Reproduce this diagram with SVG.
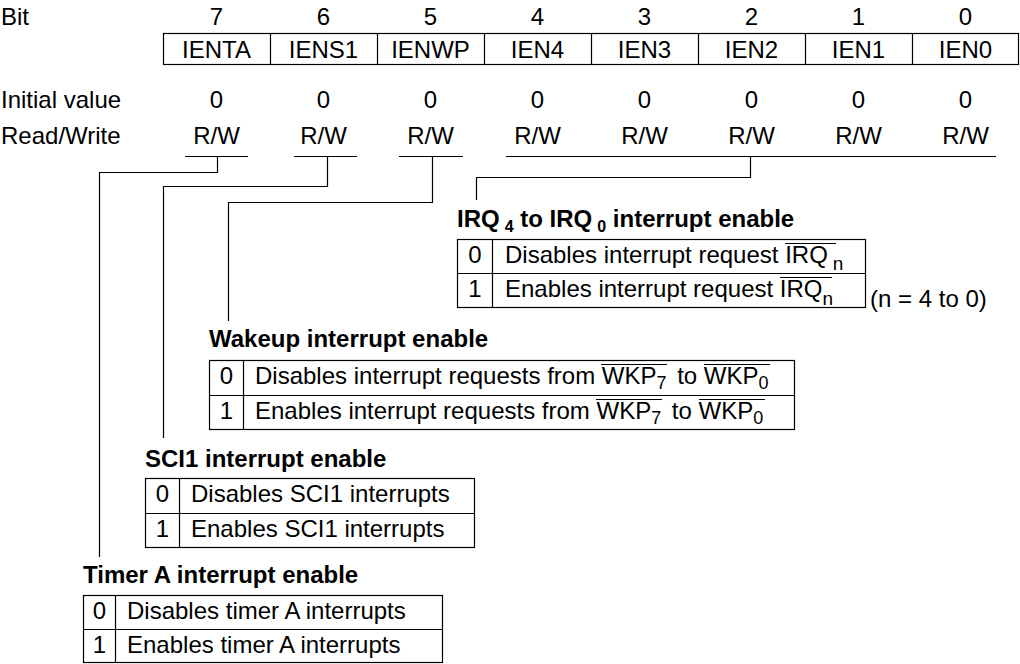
<svg xmlns="http://www.w3.org/2000/svg" width="1020" height="664" viewBox="0 0 1020 664">
<style>
.t{font-family:"Liberation Sans",Arial,Helvetica,sans-serif;font-size:24px;fill:#000}
.b{font-weight:bold}
.c{text-anchor:middle}
.ln{stroke:#000;stroke-width:1.2;fill:none}
</style>
<rect width="1020" height="664" fill="#fff"/>
<g id="header">
<text class="t" x="1" y="25">Bit</text>
<text class="t" x="1" y="108">Initial value</text>
<text class="t" x="1" y="144">Read/Write</text>
<g class="t c">
<text x="216.5" y="25">7</text><text x="323.5" y="25">6</text><text x="430.5" y="25">5</text><text x="537.5" y="25">4</text>
<text x="644.5" y="25">3</text><text x="751.5" y="25">2</text><text x="858.5" y="25">1</text><text x="965.5" y="25">0</text>
<text x="216.5" y="108">0</text><text x="323.5" y="108">0</text><text x="430.5" y="108">0</text><text x="537.5" y="108">0</text>
<text x="644.5" y="108">0</text><text x="751.5" y="108">0</text><text x="858.5" y="108">0</text><text x="965.5" y="108">0</text>
<text x="216.5" y="144">R/W</text><text x="323.5" y="144">R/W</text><text x="430.5" y="144">R/W</text><text x="537.5" y="144">R/W</text>
<text x="644.5" y="144">R/W</text><text x="751.5" y="144">R/W</text><text x="858.5" y="144">R/W</text><text x="965.5" y="144">R/W</text>
</g>
</g>
<g id="register">
<rect class="ln" x="163.5" y="33.5" width="855" height="31"/>
<path class="ln" d="M270.5 33.5V64.5M377.5 33.5V64.5M484.5 33.5V64.5M591.5 33.5V64.5M698.5 33.5V64.5M805.5 33.5V64.5M912.5 33.5V64.5"/>
<g class="t c">
<text x="216.5" y="58">IENTA</text><text x="323.5" y="58">IENS1</text><text x="430.5" y="58">IENWP</text><text x="537.5" y="58">IEN4</text>
<text x="644.5" y="58">IEN3</text><text x="751.5" y="58">IEN2</text><text x="858.5" y="58">IEN1</text><text x="965.5" y="58">IEN0</text>
</g>
</g>
<g id="connectors">
<path class="ln" d="M185 156.5H248M294 156.5H357M399 156.5H463M506 156.5H996"/>
<path class="ln" d="M217.5 156.5V172.5H99.5V557"/>
<path class="ln" d="M327.5 156.5V186.5H163.5V438"/>
<path class="ln" d="M432.5 156.5V202.5H228.5V321"/>
<path class="ln" d="M750.5 156.5V177.5H476.5V200"/>
</g>
<g id="irq">
<text class="t b" x="457" y="227">IRQ<tspan font-size="16" dx="5" dy="5">4</tspan><tspan dy="-5"> to IRQ</tspan><tspan font-size="16" dx="5" dy="5">0</tspan><tspan dy="-5"> interrupt enable</tspan></text>
<rect class="ln" x="457.5" y="239.5" width="408" height="68"/>
<path class="ln" d="M457.5 273.5H865.5M492.5 239.5V307.5"/>
<text class="t c" x="475" y="263">0</text>
<text class="t c" x="475" y="297">1</text>
<text class="t" x="505" y="263">Disables interrupt request IRQ<tspan font-size="19" dx="5" dy="7">n</tspan></text>
<text class="t" x="505" y="297">Enables interrupt request IRQ<tspan font-size="19" dy="8">n</tspan></text>
<path class="ln" d="M785 243.5H836M780 277.5H832"/>
<text class="t" x="870" y="307">(n = 4 to 0)</text>
</g>
<g id="wakeup">
<text class="t b" x="209" y="347">Wakeup interrupt enable</text>
<rect class="ln" x="209.5" y="360.5" width="585" height="69"/>
<path class="ln" d="M209.5 395.5H794.5M243.5 360.5V429.5"/>
<text class="t c" x="226.5" y="384">0</text>
<text class="t c" x="226.5" y="419">1</text>
<text class="t" x="255" y="384">Disables interrupt requests from WKP<tspan font-size="18" dy="5">7</tspan><tspan dy="-5" dx="4"> to WKP</tspan><tspan font-size="18" dy="5">0</tspan></text>
<text class="t" x="255" y="419">Enables interrupt requests from WKP<tspan font-size="18" dy="5">7</tspan><tspan dy="-5" dx="4"> to WKP</tspan><tspan font-size="18" dy="5">0</tspan></text>
<path class="ln" d="M601 364.5H667M704 364.5H770M596 399.5H662M699 399.5H765"/>
</g>
<g id="sci1">
<text class="t b" x="145" y="467">SCI1 interrupt enable</text>
<rect class="ln" x="145.5" y="478.5" width="329" height="69"/>
<path class="ln" d="M145.5 513.5H474.5M179.5 478.5V547.5"/>
<text class="t c" x="162.5" y="502">0</text>
<text class="t c" x="162.5" y="537">1</text>
<text class="t" x="191" y="502">Disables SCI1 interrupts</text>
<text class="t" x="191" y="537">Enables SCI1 interrupts</text>
</g>
<g id="timera">
<text class="t b" x="83" y="583">Timer A interrupt enable</text>
<rect class="ln" x="83.5" y="595.5" width="359" height="67"/>
<path class="ln" d="M83.5 629.5H442.5M115.5 595.5V662.5"/>
<text class="t c" x="99.5" y="619">0</text>
<text class="t c" x="99.5" y="653">1</text>
<text class="t" x="127" y="619">Disables timer A interrupts</text>
<text class="t" x="127" y="653">Enables timer A interrupts</text>
</g>
</svg>
